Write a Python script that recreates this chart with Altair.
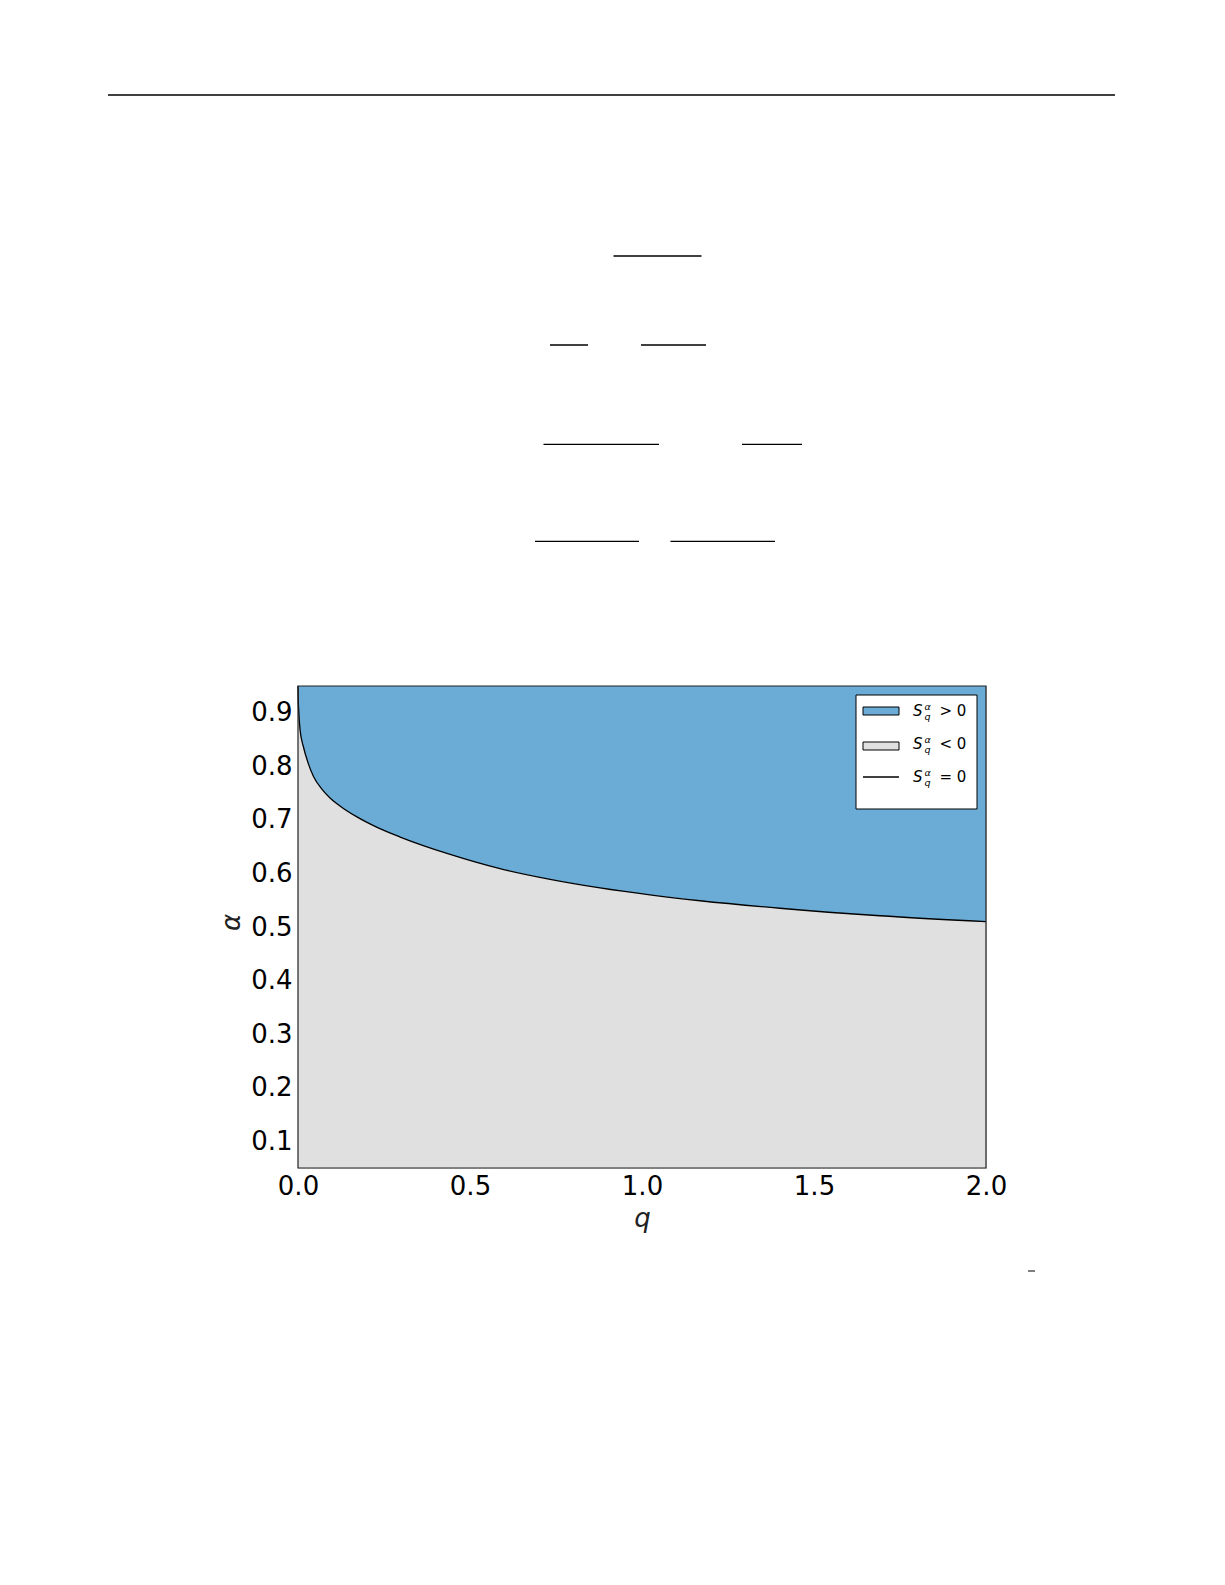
import altair as alt
import pandas as pd

# ---- data ----
q_vals = [0.0, 0.0005, 0.002, 0.006, 0.0155, 0.03, 0.045, 0.07, 0.093, 0.12, 0.17,
          0.23, 0.297, 0.44, 0.587, 0.733, 0.878, 1.023, 1.169, 1.401, 1.692, 2.0]
alpha_vals = [0.95, 0.93, 0.905, 0.868, 0.837, 0.805, 0.781, 0.757, 0.741, 0.727, 0.706,
              0.686, 0.668, 0.636, 0.609, 0.589, 0.573, 0.560, 0.549, 0.535, 0.521, 0.510]
y_domain = [0.05, 0.95]
x_domain = [0.0, 2.0]
x_ticks = [0.0, 0.5, 1.0, 1.5, 2.0]
y_ticks = [0.1, 0.2, 0.3, 0.4, 0.5, 0.6, 0.7, 0.8, 0.9]
legend_ops = ["> 0", "< 0", "= 0"]

BLUE = "#6aacd6"
GRAY = "#e0e0e0"
FONT = "DejaVu Sans"

df = pd.DataFrame({"q": q_vals, "alpha": alpha_vals})
df["top"] = y_domain[1]
df["bottom"] = y_domain[0]

W, H = 688, 482

xs = alt.Scale(domain=x_domain, nice=False, zero=False)
ys = alt.Scale(domain=y_domain, nice=False, zero=False)

x_enc = alt.X("q:Q", scale=xs, title="q",
              axis=alt.Axis(values=x_ticks, format=".1f", ticks=False, grid=False,
                            domain=False, labelPadding=5, labelFontSize=26,
                            labelFlush=False, labelOverlap=False, labelBound=False,
                            labelFont=FONT, titleFont=FONT, titleFontSize=26,
                            titleFontStyle="italic", titleFontWeight="normal",
                            titleColor="#222", labelColor="#000",
                            titleBaseline="middle", titleY=50, titleX=W / 2))
y_enc = alt.Y("alpha:Q", scale=ys, title="α",
              axis=alt.Axis(values=y_ticks, format=".1f", ticks=False, grid=False,
                            domain=False, labelPadding=6, labelFontSize=26,
                            labelFlush=False, labelOverlap=False, labelBound=False,
                            labelFont=FONT, titleFont=FONT, titleFontSize=26,
                            titleFontStyle="italic", titleFontWeight="normal",
                            titleColor="#222", labelColor="#000",
                            titleAngle=-90, titleBaseline="middle",
                            titleX=-67, titleY=236))

base = alt.Chart(df)

lower = base.mark_area(color=GRAY, interpolate="monotone").encode(
    x=x_enc, y=y_enc, y2="bottom:Q")
upper = base.mark_area(color=BLUE, interpolate="monotone").encode(
    x="q:Q", y="alpha:Q", y2="top:Q")
boundary = base.mark_line(color="black", strokeWidth=1.3, interpolate="monotone").encode(
    x="q:Q", y="alpha:Q")

one = alt.Chart(pd.DataFrame({"k": [0]}))

frame = one.mark_rect(fillOpacity=0, stroke="#222", strokeWidth=1.2).encode(
    x=alt.value(0), x2=alt.value(W), y=alt.value(0), y2=alt.value(H))

# ---- legend ----
leg_layers = [
    one.mark_rect(fill="white", stroke="black", strokeWidth=1).encode(
        x=alt.value(558), x2=alt.value(679), y=alt.value(9), y2=alt.value(123)),
    one.mark_rect(fill=BLUE, stroke="black", strokeWidth=1).encode(
        x=alt.value(565), x2=alt.value(601), y=alt.value(21), y2=alt.value(29)),
    one.mark_rect(fill=GRAY, stroke="black", strokeWidth=1).encode(
        x=alt.value(565), x2=alt.value(601), y=alt.value(56), y2=alt.value(64)),
    one.mark_rule(color="black", strokeWidth=1.3).encode(
        x=alt.value(565), x2=alt.value(601), y=alt.value(91)),
]
for i, op in enumerate(legend_ops):
    by = 30 + 33 * i
    leg_layers += [
        one.mark_text(text="S", font=FONT, fontSize=15, fontStyle="italic",
                      align="left", baseline="alphabetic", color="black").encode(
            x=alt.value(615), y=alt.value(by)),
        one.mark_text(text="α", font=FONT, fontSize=9.5, fontStyle="italic",
                      align="left", baseline="alphabetic", color="black").encode(
            x=alt.value(626.5), y=alt.value(by - 6)),
        one.mark_text(text="q", font=FONT, fontSize=9.5, fontStyle="italic",
                      align="left", baseline="alphabetic", color="black").encode(
            x=alt.value(626.5), y=alt.value(by + 4)),
        one.mark_text(text=op, font=FONT, fontSize=15,
                      align="left", baseline="alphabetic", color="black").encode(
            x=alt.value(641.5), y=alt.value(by)),
    ]

# ---- page decorations (rules of the surrounding page) ----
def hrule(x1, x2, y, w=1.3):
    return one.mark_rule(color="black", strokeWidth=w).encode(
        x=alt.value(x1), x2=alt.value(x2), y=alt.value(y))

ox, oy = 298, 686
deco = [
    hrule(108 - ox, 1115 - ox, 95 - oy, 1.5),
    hrule(613.5 - ox, 701.5 - ox, 256 - oy),
    hrule(550 - ox, 588 - ox, 345 - oy),
    hrule(641 - ox, 706 - ox, 345 - oy),
    hrule(543.5 - ox, 659 - ox, 444.3 - oy),
    hrule(742 - ox, 802 - ox, 444.3 - oy),
    hrule(535 - ox, 639 - ox, 541.3 - oy),
    hrule(670.5 - ox, 775 - ox, 541.3 - oy),
    hrule(1028 - ox, 1035 - ox, 1271 - oy, 1.0),
]

chart = alt.layer(lower, upper, boundary, frame, *leg_layers, *deco).properties(
    width=W, height=H,
    autosize=alt.AutoSizeParams(type="none"),
    padding={"left": 290, "top": 678, "right": 231, "bottom": 300},
).configure_view(stroke=None).configure(background="white")

chart.save("out.html", embed_options={"renderer": "svg", "actions": False})
